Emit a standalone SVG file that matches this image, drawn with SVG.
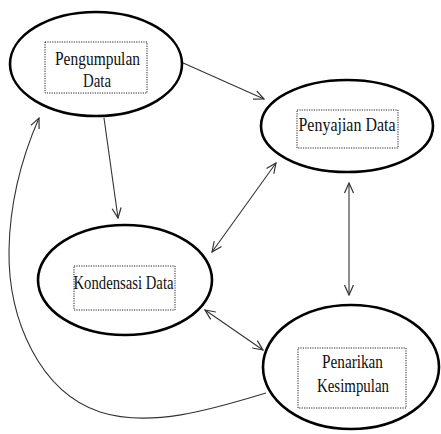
<svg xmlns="http://www.w3.org/2000/svg" width="441" height="434" viewBox="0 0 441 434">
<style>
.node ellipse{fill:#fff;stroke:#000;stroke-width:2.6}
.box{fill:none;stroke:#222;stroke-width:1;stroke-dasharray:1.2 1.2}
.lbl{font-family:'Liberation Serif','Times New Roman',serif;font-size:19px;fill:#111;text-anchor:middle}
.edge{fill:none;stroke:#333;stroke-width:1.1}
</style>
<defs>
<marker id="ah" viewBox="0 0 12 12" refX="11" refY="6" markerWidth="12" markerHeight="12" markerUnits="userSpaceOnUse" orient="auto-start-reverse">
<path d="M1,1.5 L11,6 L1,10.5" fill="none" stroke="#333" stroke-width="1.2"/>
</marker>
</defs>
<rect width="441" height="434" fill="#fff"/>
<g id="connectors">
<line class="edge" x1="181" y1="62" x2="264" y2="99" marker-end="url(#ah)"/>
<line class="edge" x1="104" y1="118" x2="118" y2="218" marker-end="url(#ah)"/>
<line class="edge" x1="212" y1="252" x2="276" y2="163" marker-start="url(#ah)" marker-end="url(#ah)"/>
<line class="edge" x1="349" y1="183" x2="349" y2="295" marker-start="url(#ah)" marker-end="url(#ah)"/>
<line class="edge" x1="205" y1="310" x2="263" y2="350" marker-start="url(#ah)" marker-end="url(#ah)"/>
<path class="edge" d="M266,393 C210,410 150,428 100,412 C40,392 8,320 9,250 C10,195 25,150 39,118" marker-end="url(#ah)"/>
</g>
<g id="pengumpulan" class="node">
<ellipse cx="96" cy="64" rx="86" ry="52"/>
<rect class="box" x="45" y="42" width="102" height="51"/>
<text class="lbl" x="97.5" y="65" textLength="85" lengthAdjust="spacingAndGlyphs">Pengumpulan</text>
<text class="lbl" x="97" y="87" textLength="28" lengthAdjust="spacingAndGlyphs">Data</text>
</g>
<g id="penyajian" class="node">
<ellipse cx="347" cy="126" rx="86" ry="46"/>
<rect class="box" x="297" y="110" width="101" height="38"/>
<text class="lbl" x="347" y="131" textLength="97" lengthAdjust="spacingAndGlyphs">Penyajian Data</text>
</g>
<g id="kondensasi" class="node">
<ellipse cx="125" cy="280" rx="87" ry="55"/>
<rect class="box" x="74" y="266" width="101" height="44"/>
<text class="lbl" x="123.5" y="289" textLength="100" lengthAdjust="spacingAndGlyphs">Kondensasi Data</text>
</g>
<g id="penarikan" class="node">
<ellipse cx="351" cy="367" rx="88" ry="62"/>
<rect class="box" x="298" y="348" width="108" height="60"/>
<text class="lbl" x="352.5" y="368" textLength="61" lengthAdjust="spacingAndGlyphs">Penarikan</text>
<text class="lbl" x="353" y="392" textLength="72" lengthAdjust="spacingAndGlyphs">Kesimpulan</text>
</g>
</svg>
